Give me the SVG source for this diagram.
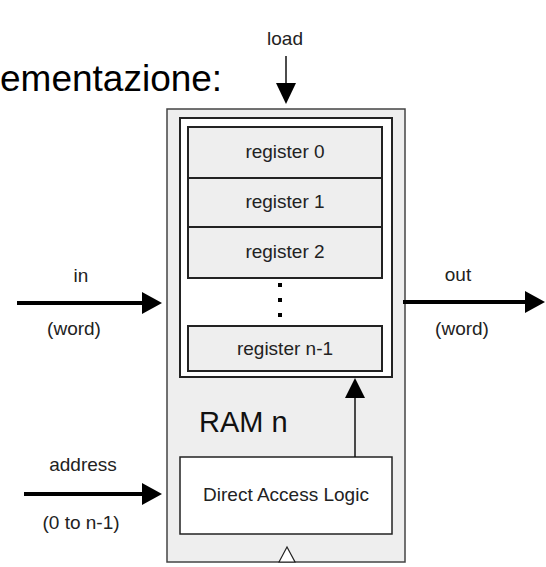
<svg xmlns="http://www.w3.org/2000/svg" width="546" height="567" viewBox="0 0 546 567">
<style>
text{font-family:"Liberation Sans",Arial,sans-serif;fill:#222}
.lbl{font-size:19px;text-anchor:middle}
.gray{fill:#eeeeee;stroke:#222;stroke-width:2}
.white{fill:#ffffff;stroke:#222;stroke-width:2}
.thick{stroke:#000;stroke-width:4;fill:none}
.thin{stroke:#111;stroke-width:1.5;fill:none}
.head{fill:#000}
</style>
<rect width="546" height="567" fill="#ffffff"/>
<text x="0" y="91" style="font-size:37px;fill:#000">ementazione:</text>
<g id="ram">
<rect x="167" y="109" width="238" height="453" fill="#eeeeee" stroke="#444" stroke-width="1.5"/>
<text x="199" y="432" style="font-size:29px;fill:#111">RAM n</text>
<polygon points="279,562 287,547 295,562" fill="#ffffff" stroke="#222" stroke-width="1.2"/>
</g>
<g id="registers">
<rect class="white" x="180" y="118" width="212" height="259"/>
</g>
<g id="register0"><rect class="gray" x="188" y="127" width="194" height="51"/><text class="lbl" x="285" y="158">register 0</text></g>
<g id="register1"><rect class="gray" x="188" y="178" width="194" height="49"/><text class="lbl" x="285" y="208">register 1</text></g>
<g id="register2"><rect class="gray" x="188" y="227" width="194" height="51"/><text class="lbl" x="285" y="258">register 2</text></g>
<g id="dots"><rect x="278" y="283" width="4" height="4" fill="#000"/><rect x="278" y="298" width="4" height="4" fill="#000"/><rect x="278" y="313" width="4" height="4" fill="#000"/></g>
<g id="registern1"><rect class="gray" x="188" y="326" width="194" height="45"/><text class="lbl" x="285" y="355">register n-1</text></g>
<g id="dal"><rect x="180" y="457" width="212" height="77" fill="#ffffff" stroke="#222" stroke-width="1.5"/><text class="lbl" x="286" y="501">Direct Access Logic</text></g>
<g id="connectors">
<line class="thin" x1="286" y1="56" x2="286" y2="85"/><polygon class="head" points="276,83 286,104 296,83"/>
<line class="thick" x1="17" y1="303" x2="145" y2="303"/><polygon class="head" points="142,292 162,303 142,314"/>
<line class="thick" x1="403" y1="302" x2="527" y2="302"/><polygon class="head" points="525,291 545,302 525,313"/>
<line class="thick" x1="24" y1="494" x2="145" y2="494"/><polygon class="head" points="142,483 162,494 142,505"/>
<line class="thin" x1="355" y1="457" x2="355" y2="396"/><polygon class="head" points="345,398 355,378 365,398"/>
</g>
<g id="labels">
<text class="lbl" x="285" y="45">load</text>
<text class="lbl" x="81" y="282">in</text>
<text class="lbl" x="74" y="335">(word)</text>
<text class="lbl" x="458" y="281">out</text>
<text class="lbl" x="462" y="335">(word)</text>
<text class="lbl" x="83" y="471">address</text>
<text class="lbl" x="81" y="529">(0 to n-1)</text>
</g>
</svg>
